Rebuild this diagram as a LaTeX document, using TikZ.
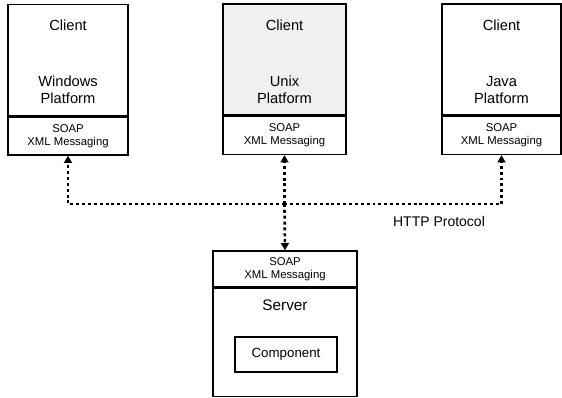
\documentclass[tikz,border=0pt]{standalone}
\usepackage{fontspec}
\setmainfont{Liberation Sans}
\usetikzlibrary{arrows.meta}
\tikzset{every picture/.style={line width=0.75pt}}
\begin{document}
\begin{tikzpicture}[x=0.75pt,y=0.75pt,yscale=-1,xscale=1,
	soapbox/.style={draw, line width=1pt, minimum width=#1, minimum height=28.5pt, inner sep=0pt, align=center, font=\fontsize{8.5}{9.75}\selectfont},
	clientbox/.style={draw, line width=1pt, minimum width=#1, minimum height=83.25pt, inner sep=0pt},
	bigtext/.style={inner sep=0.75pt, align=center, font=\fontsize{11}{12.75}\selectfont},
	bus/.style={line width=2pt, dash pattern={on 2.2pt off 2.2pt}},
	tip/.style={-{Triangle[length=5.5pt,width=6pt]}}]
	\useasboundingbox (0,0) rectangle (562,398);
	
	%Client boxes
	\node (winsoap) [soapbox=90pt] at (68,136) {SOAP\\XML Messaging};
	\node (win) [clientbox=90pt, anchor=south] at (winsoap.north) {};
	\node (unixsoap) [soapbox=92.25pt] at (284.5,135.5) {SOAP\\XML Messaging};
	\node (unix) [clientbox=92.25pt, fill=gray!12, anchor=south] at (unixsoap.north) {};
	\node (javasoap) [soapbox=89.25pt] at (501.5,135.5) {SOAP\\XML Messaging};
	\node (java) [clientbox=89.25pt, anchor=south] at (javasoap.north) {};
	
	% Text Node
	\node (winclient) [bigtext] at (68,25) {Client};
	\node (winplat) [bigtext] at (68,90) {Windows\\Platform};
	\node (unixclient) [bigtext] at (284.5,25) {Client};
	\node (unixplat) [bigtext] at (284.5,90) {Unix\\Platform};
	\node (javaclient) [bigtext] at (501.5,25) {Client};
	\node (javaplat) [bigtext] at (501.5,90) {Java\\Platform};
	
	%Server box
	\node (srvsoap) [soapbox=108pt, minimum height=27pt] at (285,269) {SOAP\\XML Messaging};
	\node (srv) [draw, line width=1pt, minimum width=108pt, minimum height=81pt, anchor=north] at (srvsoap.south) {};
	\node (srvlabel) [bigtext, font=\fontsize{11.5}{13}\selectfont] at (285,305) {Server};
	\node (comp) [draw, line width=1pt, minimum width=76.5pt, minimum height=26.25pt, font=\fontsize{10}{12}\selectfont] at (286,354.5) {Component};
	
	%HTTP bus
	\coordinate (hub) at (284.5,204);
	\draw [bus, tip] (hub) -| (winsoap.south);
	\draw [bus, tip] (hub) -| (javasoap.south);
	\draw [bus, tip] (hub) -- (unixsoap.south);
	\draw [bus, tip] (hub) -- (srvsoap.north);
	\node (http) [bigtext, font=\fontsize{10.5}{12}\selectfont] at (439,222) {HTTP Protocol};
\end{tikzpicture}
\end{document}
